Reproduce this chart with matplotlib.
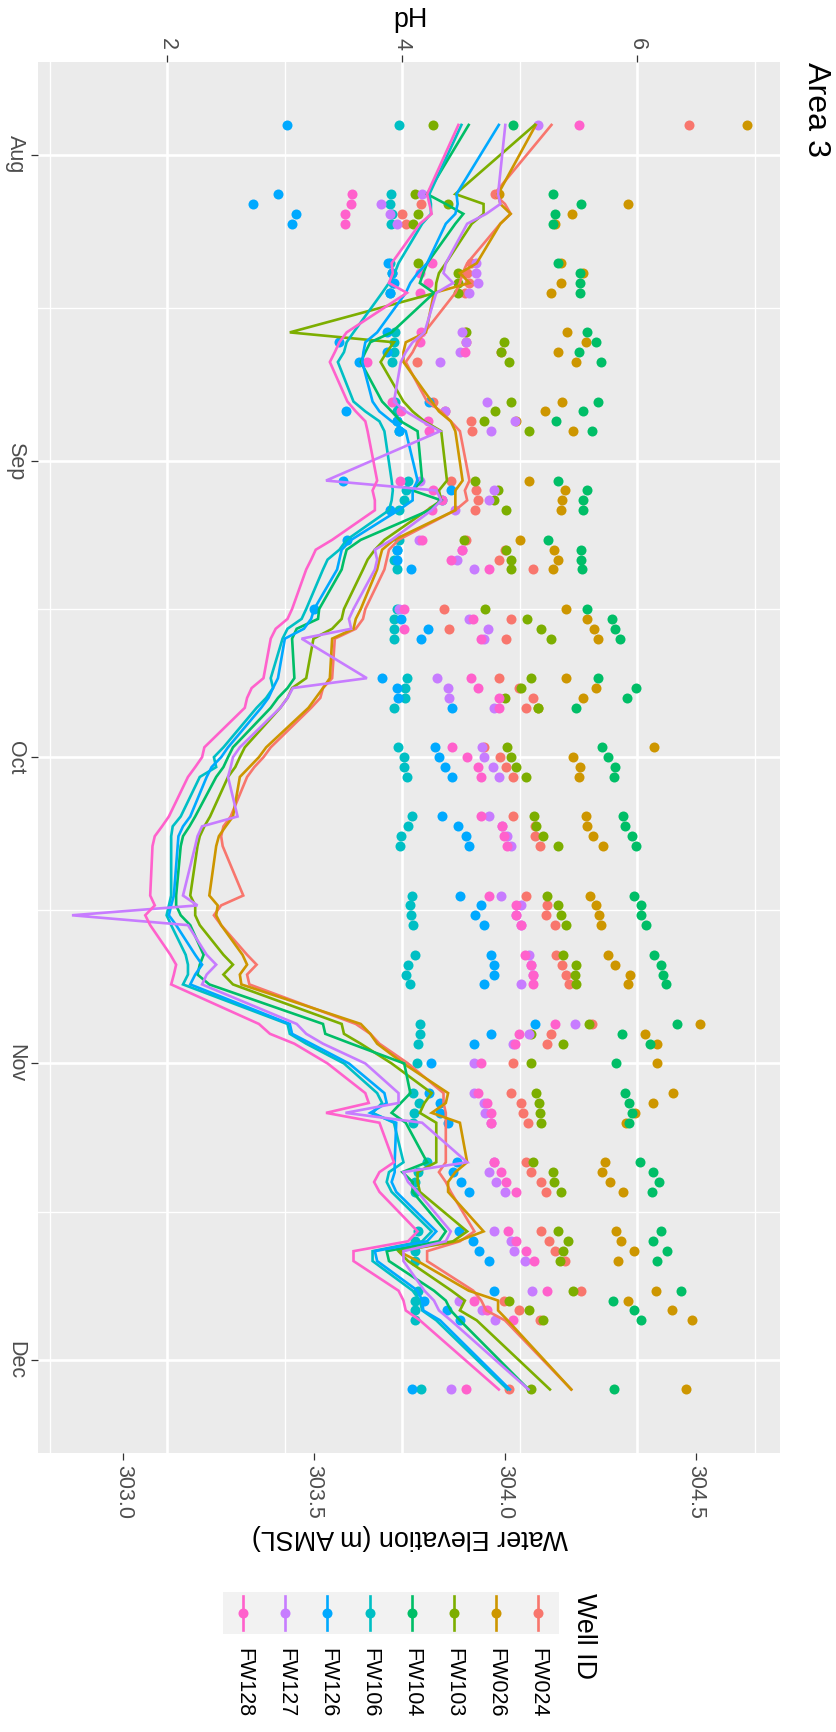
import numpy as np
import matplotlib
matplotlib.use('Agg')
import matplotlib.pyplot as plt
import matplotlib.dates as mdates
from matplotlib.patches import Rectangle

plt.rcParams['font.family'] = ['Liberation Sans', 'DejaVu Sans']

sample_dates = ['2019-07-29',
    '2019-08-05', '2019-08-06', '2019-08-07', '2019-08-08',
    '2019-08-12', '2019-08-13', '2019-08-14', '2019-08-15',
    '2019-08-19', '2019-08-20', '2019-08-21', '2019-08-22',
    '2019-08-26', '2019-08-27', '2019-08-28', '2019-08-29',
    '2019-09-03', '2019-09-04', '2019-09-05', '2019-09-06',
    '2019-09-09', '2019-09-10', '2019-09-11', '2019-09-12',
    '2019-09-16', '2019-09-17', '2019-09-18', '2019-09-19',
    '2019-09-23', '2019-09-24', '2019-09-25', '2019-09-26',
    '2019-09-30', '2019-10-01', '2019-10-02', '2019-10-03',
    '2019-10-07', '2019-10-08', '2019-10-09', '2019-10-10',
    '2019-10-15', '2019-10-16', '2019-10-17', '2019-10-18',
    '2019-10-21', '2019-10-22', '2019-10-23', '2019-10-24',
    '2019-10-28', '2019-10-29', '2019-10-30', '2019-11-01',
    '2019-11-04', '2019-11-05', '2019-11-06', '2019-11-07',
    '2019-11-11', '2019-11-12', '2019-11-13', '2019-11-14',
    '2019-11-18', '2019-11-19', '2019-11-20', '2019-11-21',
    '2019-11-24', '2019-11-25', '2019-11-26', '2019-11-27',
    '2019-12-04']

well_ids = ['FW024', 'FW026', 'FW103', 'FW104', 'FW106', 'FW126', 'FW127', 'FW128']
well_colors = ['#F8766D', '#CD9600', '#7CAE00', '#00BE67', '#00BFC4', '#00A9FF', '#C77CFF', '#FF61CC']

# pH readings
ph_fw024 = [6.44, 4.79, 4.16, 4.00, 4.03, 4.58, 4.55, 4.57, 4.53, 4.53, 4.54, 4.84, 4.12,
            4.26, 4.36, 4.58, 4.59, 4.41, 4.63, 4.64, 4.62, 4.54, 4.87, 4.82, 5.11,
            4.35, 4.92, 4.40, 4.88, 4.82, 4.99, 5.11, 5.05, 4.69, 4.83, 4.88, 4.94,
            4.94, 5.13, 5.13, 5.17, 5.05, 5.23, 5.22, 5.30, 5.31, 5.36, 5.39, 5.42,
            5.61, 5.26, 5.23, 4.94, 4.92, 5.01, 5.03, 5.07, 5.05, 5.09, 5.18, 5.22,
            5.18, 5.25, 5.30, 5.38, 5.52, 4.86, 4.99, 5.17, 4.91]
ph_fw026 = [6.93, 4.82, 5.92, 5.44, 5.30, 5.35, 5.54, 5.35, 5.26, 5.40, 5.56, 5.32, 5.48,
            5.36, 5.21, 4.97, 5.45, 5.08, 5.38, 5.36, 5.35, 5.00, 5.29, 5.32, 5.28,
            5.39, 5.57, 5.63, 5.66, 5.39, 5.65, 5.54, 5.15, 6.14, 5.45, 5.51, 5.50,
            5.56, 5.57, 5.62, 5.71, 5.60, 5.65, 5.67, 5.69, 5.75, 5.81, 5.94, 5.92,
            6.53, 6.06, 6.17, 6.17, 6.30, 6.13, 5.98, 5.90, 5.72, 5.70, 5.77, 5.88,
            5.82, 5.86, 5.97, 5.83, 6.16, 5.92, 6.29, 6.46, 6.41]
ph_fw103 = [4.26, 4.11, 4.39, 4.13, 4.09, 4.13, 4.47, 4.47, 4.47, 4.54, 4.86, 4.84, 4.91,
            4.92, 4.79, 4.69, 5.08, 4.62, 4.81, 4.78, 4.88, 4.52, 4.88, 4.92, 4.92,
            4.70, 5.06, 5.18, 5.26, 5.09, 5.01, 4.87, 5.15, 4.89, 4.92, 4.97, 5.05,
            5.12, 5.14, 5.20, 5.32, 5.23, 5.32, 5.35, 5.39, 5.37, 5.48, 5.47, 5.48,
            5.59, 5.09, 5.37, 5.09, 5.14, 5.16, 5.17, 5.18, 5.11, 5.28, 5.29, 5.35,
            5.32, 5.41, 5.37, 5.34, 5.45, 4.91, 5.08, 5.20, 5.09]
ph_fw104 = [4.94, 5.28, 5.52, 5.30, 5.28, 5.32, 5.51, 5.51, 5.51, 5.57, 5.65, 5.50, 5.69,
            5.66, 5.54, 5.31, 5.61, 5.32, 5.57, 5.54, 5.54, 5.24, 5.52, 5.52, 5.53,
            5.57, 5.78, 5.81, 5.85, 5.66, 5.99, 5.91, 5.48, 5.70, 5.75, 5.81, 5.80,
            5.88, 5.89, 5.95, 5.99, 5.97, 6.03, 6.03, 6.07, 6.14, 6.20, 6.22, 6.24,
            6.34, 5.87, 6.11, 5.82, 5.89, 5.93, 5.95, 5.93, 6.02, 6.13, 6.18, 6.12,
            6.20, 6.13, 6.25, 6.17, 6.37, 5.79, 5.97, 6.03, 5.80]
ph_fw106 = [3.97, 3.90, 3.89, 3.91, 3.90, 3.89, 3.91, 3.92, 3.89, 3.94, 3.93, 3.93, 3.91,
            3.94, 3.95, 3.95, 3.97, 4.05, 4.03, 4.01, 3.97, 3.97, 3.95, 3.93, 3.95,
            3.95, 3.93, 3.93, 3.93, 4.04, 4.02, 4.02, 3.93, 3.96, 4.01, 4.01, 4.04,
            4.08, 4.05, 3.99, 3.98, 4.08, 4.06, 4.07, 4.09, 4.11, 4.05, 4.03, 4.06,
            4.15, 4.15, 4.13, 4.12, 4.09, 4.14, 4.10, 4.09, 4.21, 4.13, 4.11, 4.11,
            4.13, 4.11, 4.11, 4.11, 4.13, 4.11, 4.11, 4.11, 4.16]
ph_fw126 = [3.02, 2.94, 2.73, 3.09, 3.06, 3.88, 3.91, 3.93, 3.89, 3.87, 3.46, 3.87, 3.63,
            4.23, 3.52, 3.95, 3.97, 3.49, 4.41, 4.34, 3.89, 3.53, 3.95, 3.95, 4.07,
            3.25, 3.99, 4.22, 4.16, 3.83, 3.95, 3.96, 4.42, 4.28, 4.31, 4.36, 4.42,
            4.34, 4.47, 4.54, 4.57, 4.49, 4.67, 4.62, 4.69, 4.75, 4.78, 4.78, 4.69,
            5.13, 4.75, 4.61, 4.24, 4.23, 4.32, 4.32, 4.39, 4.46, 4.43, 4.50, 4.57,
            4.48, 4.60, 4.65, 4.74, 4.78, 4.18, 4.38, 4.49, 4.08]
ph_fw127 = [5.15, 4.17, 3.82, 3.89, 3.95, 4.63, 4.63, 4.64, 4.57, 4.51, 4.54, 4.49, 4.32,
            4.72, 4.36, 4.96, 4.75, 4.15, 4.78, 4.74, 4.45, 4.14, 4.51, 4.46, 4.61,
            3.97, 4.57, 4.73, 4.69, 4.29, 4.39, 4.40, 4.78, 4.68, 4.69, 4.77, 4.82,
            4.74, 4.85, 4.89, 4.92, 4.84, 5.01, 4.97, 5.01, 5.08, 5.09, 5.11, 5.01,
            5.47, 5.08, 4.94, 4.61, 4.61, 4.69, 4.70, 4.75, 4.78, 4.74, 4.80, 4.87,
            4.78, 4.92, 4.95, 5.04, 5.10, 4.48, 4.68, 4.79, 4.41]
ph_fw128 = [5.50, 3.57, 3.56, 3.51, 3.51, 4.25, 4.15, 4.22, 4.15, 4.16, 4.15, 4.53, 3.70,
            3.91, 3.99, 4.22, 4.23, 3.98, 4.26, 4.34, 4.25, 4.17, 4.51, 4.41, 4.74,
            4.01, 4.60, 4.01, 4.67, 4.58, 4.64, 4.82, 4.82, 4.42, 4.55, 4.64, 4.67,
            4.67, 4.85, 4.86, 4.89, 4.74, 4.97, 4.97, 5.01, 5.04, 5.09, 5.11, 5.11,
            5.30, 4.99, 4.96, 4.67, 4.64, 4.72, 4.75, 4.75, 4.78, 4.84, 4.88, 4.97,
            4.90, 4.97, 5.05, 5.12, 5.23, 4.61, 4.72, 4.94, 4.54]

# water elevation (m AMSL)
elev_fw024 = [304.122, 303.972, 304.000, 304.015, 303.988, 303.901, 303.889, 303.882, 303.870,
              303.789, 303.771, 303.758, 303.740, 303.796, 303.833, 303.858, 303.882,
              303.907, 303.895, 303.901, 303.870, 303.721, 303.696, 303.690, 303.684,
              303.634, 303.628, 303.609, 303.554, 303.547, 303.523, 303.516, 303.492,
              303.386, 303.367, 303.343, 303.324, 303.281, 303.262, 303.256, 303.260,
              303.314, 303.256, 303.237, 303.256, 303.324, 303.349, 303.324, 303.330,
              303.609, 303.647, 303.671, 303.746, 303.839, 303.839, 303.845, 303.845,
              303.845, 303.827, 303.845, 303.858, 303.920, 303.882, 303.796, 303.796,
              303.917, 303.938, 303.951, 304.000, 304.174]
elev_fw026 = [304.081, 303.982, 303.988, 304.015, 303.988, 303.926, 303.882, 303.907, 303.814,
              303.793, 303.740, 303.734, 303.734, 303.808, 303.827, 303.858, 303.870,
              303.889, 303.870, 303.870, 303.870, 303.709, 303.678, 303.671, 303.665,
              303.622, 303.609, 303.603, 303.547, 303.541, 303.523, 303.504, 303.485,
              303.374, 303.355, 303.330, 303.305, 303.287, 303.268, 303.250, 303.243,
              303.225, 303.247, 303.243, 303.256, 303.312, 303.324, 303.305, 303.309,
              303.622, 303.647, 303.665, 303.734, 303.851, 303.845, 303.808, 303.882,
              303.901, 303.870, 303.851, 303.851, 303.944, 303.876, 303.721, 303.771,
              303.905, 303.982, 303.982, 304.007, 304.174]
elev_fw103 = [304.078, 303.870, 303.944, 303.944, 303.913, 303.845, 303.827, 303.820, 303.818,
              303.436, 303.709, 303.690, 303.674, 303.734, 303.758, 303.789, 303.833,
              303.848, 303.827, 303.833, 303.796, 303.684, 303.659, 303.640, 303.628,
              303.578, 303.572, 303.547, 303.498, 303.479, 303.442, 303.430, 303.411,
              303.318, 303.305, 303.293, 303.274, 303.227, 303.212, 303.200, 303.194,
              303.175, 303.188, 303.188, 303.200, 303.262, 303.287, 303.262, 303.287,
              303.572, 303.578, 303.622, 303.703, 303.808, 303.789, 303.777, 303.820,
              303.820, 303.771, 303.771, 303.777, 303.901, 303.864, 303.721, 303.746,
              303.860, 303.895, 303.882, 303.926, 304.118]
elev_fw104 = [303.905, 303.796, 303.845, 303.891, 303.870, 303.796, 303.786, 303.777, 303.814,
              303.703, 303.647, 303.634, 303.622, 303.678, 303.703, 303.727, 303.771,
              303.783, 303.758, 303.833, 303.802, 303.622, 303.585, 303.578, 303.572,
              303.513, 303.510, 303.454, 303.442, 303.448, 303.430, 303.405, 303.386,
              303.287, 303.274, 303.262, 303.243, 303.188, 303.173, 303.156, 303.150,
              303.138, 303.138, 303.150, 303.175, 303.210, 303.200, 303.194, 303.225,
              303.523, 303.529, 303.597, 303.736, 303.752, 303.727, 303.703, 303.740,
              303.796, 303.731, 303.758, 303.758, 303.845, 303.827, 303.690, 303.696,
              303.814, 303.845, 303.858, 303.882, 304.062]
elev_fw106 = [303.886, 303.802, 303.806, 303.806, 303.783, 303.721, 303.711, 303.696, 303.678,
              303.603, 303.585, 303.578, 303.562, 303.603, 303.634, 303.671, 303.684,
              303.703, 303.706, 303.703, 303.696, 303.585, 303.566, 303.535, 303.523,
              303.479, 303.467, 303.430, 303.417, 303.386, 303.392, 303.374, 303.349,
              303.262, 303.237, 303.243, 303.200, 303.150, 303.129, 303.125, 303.125,
              303.125, 303.119, 303.113, 303.125, 303.163, 303.169, 303.169, 303.156,
              303.430, 303.436, 303.479, 303.578, 303.665, 303.678, 303.653, 303.709,
              303.734, 303.696, 303.690, 303.703, 303.808, 303.783, 303.653, 303.653,
              303.758, 303.777, 303.783, 303.820, 304.007]
elev_fw126 = [303.984, 303.873, 303.876, 303.870, 303.845, 303.796, 303.771, 303.752, 303.740,
              303.665, 303.634, 303.629, 303.626, 303.653, 303.671, 303.703, 303.740,
              303.771, 303.758, 303.758, 303.721, 303.597, 303.572, 303.566, 303.560,
              303.500, 303.492, 303.473, 303.423, 303.405, 303.392, 303.380, 303.361,
              303.274, 303.256, 303.231, 303.218, 303.175, 303.156, 303.144, 303.142,
              303.132, 303.125, 303.119, 303.138, 303.188, 303.206, 303.188, 303.175,
              303.436, 303.442, 303.492, 303.591, 303.684, 303.690, 303.647, 303.715,
              303.711, 303.711, 303.703, 303.715, 303.820, 303.796, 303.659, 303.665,
              303.771, 303.783, 303.786, 303.830, 304.013]
elev_fw127 = [304.001, 303.982, 303.988, 303.951, 303.901, 303.845, 303.839, 303.864, 303.820,
              303.789, 303.758, 303.740, 303.727, 303.709, 303.740, 303.783, 303.830,
              303.531, 303.820, 303.833, 303.808, 303.703, 303.659, 303.665, 303.659,
              303.603, 303.591, 303.597, 303.467, 303.638, 303.444, 303.430, 303.411,
              303.305, 303.287, 303.281, 303.274, 303.299, 303.206, 303.194, 303.188,
              303.156, 303.194, 302.865, 303.169, 303.218, 303.243, 303.218, 303.206,
              303.454, 303.479, 303.523, 303.634, 303.721, 303.721, 303.582, 303.783,
              303.901, 303.734, 303.746, 303.771, 303.858, 303.845, 303.734, 303.734,
              303.789, 303.814, 303.827, 303.858, 304.062]
elev_fw128 = [303.878, 303.796, 303.802, 303.808, 303.777, 303.703, 303.706, 303.696, 303.743,
              303.585, 303.566, 303.554, 303.541, 303.587, 303.609, 303.634, 303.640,
              303.665, 303.653, 303.659, 303.659, 303.547, 303.504, 303.492, 303.479,
              303.442, 303.430, 303.399, 303.386, 303.367, 303.336, 303.324, 303.318,
              303.212, 303.206, 303.188, 303.169, 303.119, 303.101, 303.082, 303.076,
              303.070, 303.082, 303.057, 303.070, 303.123, 303.138, 303.132, 303.125,
              303.355, 303.384, 303.448, 303.535, 303.634, 303.643, 303.531, 303.671,
              303.709, 303.671, 303.657, 303.671, 303.771, 303.746, 303.603, 303.603,
              303.721, 303.734, 303.740, 303.777, 303.984]

ph_lists = [ph_fw024, ph_fw026, ph_fw103, ph_fw104, ph_fw106, ph_fw126, ph_fw127, ph_fw128]
elev_lists = [elev_fw024, elev_fw026, elev_fw103, elev_fw104, elev_fw106, elev_fw126, elev_fw127, elev_fw128]


# secondary axis: elevation shown against the pH scale
def elev_to_ph(e):
    return 0.9043 + (np.asarray(e) - 302.7776) * 3.2458


def ph_to_elev(p):
    return 302.7776 + (np.asarray(p) - 0.9043) / 3.2458


W, H = 837, 1732
fig = plt.figure(figsize=(W / 100, H / 100), dpi=100)
ax = fig.add_axes([38.4 / W, 1 - 1452.7 / H, (780.5 - 38.4) / W, (1452.7 - 61.7) / H])
ax.set_facecolor('#EBEBEB')
for sp in ax.spines.values():
    sp.set_visible(False)

dates = mdates.date2num(np.array(sample_dates, dtype='datetime64[D]'))

# points first, lines on top (as in the original)
for ph, col in zip(ph_lists, well_colors):
    ax.scatter(ph, dates, s=52, color=col, linewidths=0, zorder=2)
for elev, col in zip(elev_lists, well_colors):
    ax.plot(elev_to_ph(elev), dates, color=col, lw=1.9, zorder=3, solid_joinstyle='miter')

month_starts = mdates.date2num(np.array(['2019-07-01', '2019-08-01', '2019-09-01', '2019-10-01',
                                         '2019-11-01', '2019-12-01', '2020-01-01'], dtype='datetime64[D]'))
ax.set_yticks(month_starts[1:6], labels=['Aug', 'Sep', 'Oct', 'Nov', 'Dec'],
              rotation=-90, va='center', ha='right')
ax.set_yticks((month_starts[:-1] + month_starts[1:]) / 2, minor=True)

ax.xaxis.tick_top()
ax.set_xticks([2, 4, 6], labels=['2', '4', '6'], rotation=-90, va='bottom', ha='center')
ax.set_xticks([1, 3, 5, 7], minor=True)

# limits after ticks so the off-range minor ticks do not widen the view
span = dates.max() - dates.min()
ax.set_ylim(dates.max() + 0.05 * span, dates.min() - 0.05 * span)
ax.set_xlim(0.902, 7.217)

ax.set_axisbelow(True)
ax.grid(which='major', color='white', lw=1.9)
ax.grid(which='minor', color='white', lw=0.95)
ax.tick_params(which='major', length=4.8, width=0.9, color='#333333',
               labelsize=15.5, labelcolor='#4D4D4D', pad=3.9)
ax.tick_params(which='minor', length=0)
ax.tick_params(axis='x', top=True, bottom=False, labeltop=True, labelbottom=False)

sec = ax.secondary_xaxis('bottom', functions=(ph_to_elev, elev_to_ph))
sec.set_xticks([303.0, 303.5, 304.0, 304.5], labels=['303.0', '303.5', '304.0', '304.5'],
               rotation=-90, va='top', ha='center')
sec.tick_params(which='major', length=4.8, width=0.9, color='#333333',
                labelsize=15.5, labelcolor='#4D4D4D', pad=3.9)
sec.tick_params(which='minor', length=0)
for sp in sec.spines.values():
    sp.set_visible(False)

fig.text(411 / W, 1 - 20 / H, 'pH', fontsize=19.4, ha='center', va='center')
fig.text(410 / W, 1 - 1537 / H, 'Water Elevation (m AMSL)', fontsize=19.4,
         rotation=180, ha='center', va='center')
fig.text(816 / W, 1 - 62 / H, 'Area 3', fontsize=23.2, rotation=-90, ha='center', va='top')

# legend, drawn in pixel coordinates
lax = fig.add_axes([0, 0, 1, 1])
lax.set_xlim(0, W)
lax.set_ylim(H, 0)
lax.axis('off')
lax.add_patch(Rectangle((222.6, 1592), 559 - 222.6, 42, color='#F2F2F2', lw=0))
for i, (name, col) in enumerate(zip(well_ids, well_colors)):
    kx = 538 - 42.1 * i
    lax.scatter([kx], [1613], s=52, color=col, linewidths=0, zorder=2)
    lax.plot([kx, kx], [1596, 1630], color=col, lw=1.9, zorder=3)
    lax.text(kx, 1648, name, fontsize=15.5, rotation=-90, ha='center', va='top')
lax.text(584, 1593, 'Well ID', fontsize=19.4, rotation=-90, ha='center', va='top')

fig.savefig('out.png', dpi=100)
